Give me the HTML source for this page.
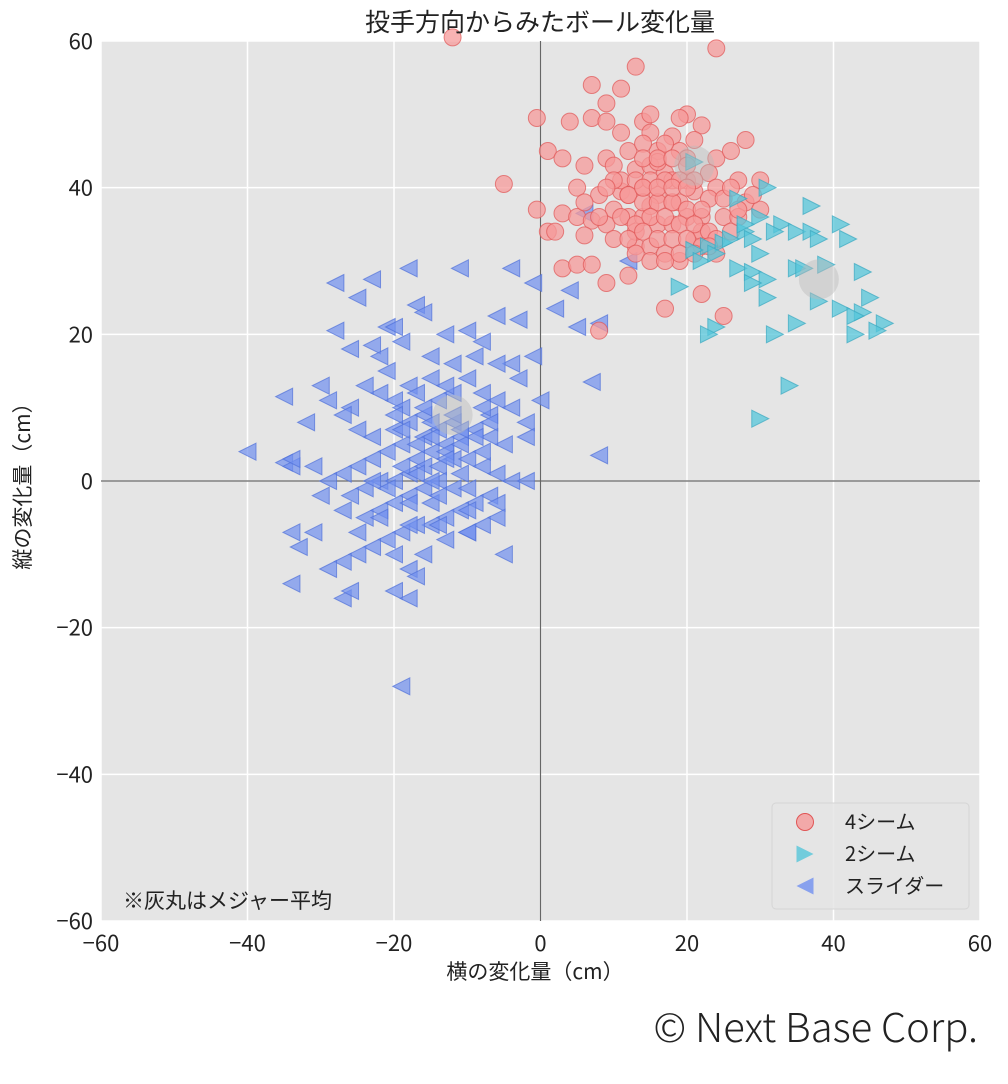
<!DOCTYPE html>
<html><head><meta charset="utf-8"><style>
body{margin:0;background:#fff;width:1008px;height:1079px;overflow:hidden}
svg text{font-family:"Noto Sans CJK JP","Liberation Sans",sans-serif}
</style></head><body>
<svg id="chart" width="1008" height="1079" xmlns="http://www.w3.org/2000/svg"></svg>
<script>
const xTicks=[-60,-40,-20,0,20,40,60];
const yTicks=[-60,-40,-20,0,20,40,60];
const fourSeamX=[-12,24,13,7,11,9,7,4,9,14,15,20,19,-0.5,22,11,15,18,28,21,1,9,12,16,19,24,26,3,6,10,13,15,17,20,23,27,30,-5,5,8,11,14,16,18,21,24,28,-0.5,3,5,7,9,12,14,16,18,20,22,25,30,1,2,6,10,13,15,17,19,24,3,5,7,12,17,22,25,9,8,26,23,12,19,25,16,14,11,13,21,27,20,22,18,10,6,15,17,
14,16,18,20,13,15,17,19,21,12,14,16,18,20,22,11,13,15,17,19,21,23,12,14,16,18,20,22,24,13,15,17,19,21,23,14,16,18,20,10,9,8,26,27,29];
const fourSeamY=[60.5,59,56.5,54,53.5,51.5,49.5,49,49,49,50,50,49.5,49.5,48.5,47.5,47.5,47,46.5,46.5,45,44,45,45,45,44,45,44,43,43,42.5,43,42,41,42,41,41,40.5,40,39,39.5,40,39,38,39.5,40,38,37,36.5,36,35.5,35,36,36,35,35,36,36,36,37,34,34,33.5,33,32,32,31,30,31,29,29.5,29.5,28,23.5,25.5,22.5,27,20.5,34,38.5,39,38,38.5,43.5,46,41,34,33,36,44,34,41,37,38,37.5,46,
44,44,44,43,41,41,41,41,41,39,38,38,38,37,37,36,35,36,36,35,35,34,33,34,33,33,33,32,33,31,30,30,31,31,32,40,40,40,40,41,40,36,40,37,39];
const twoSeamX=[21,31,27,37,30,33,41,28,35,37,29,38,42,23,25,21,30,22,39,27,29,35,36,44,31,29,19,31,38,45,41,44,43,24,35,47,23,32,43,46,34,30,26,28,32,24];
const twoSeamY=[43.5,40,38.5,37.5,36,35,35,34,34,34,33,33,33,32,32.5,31.5,31,30,29.5,29,28.5,29,29,28.5,27.5,27,26.5,25,24.5,25,23.5,23,22.5,21,21.5,21.5,20,20,20,20.5,13,8.5,33,35,34,31];
const sliderX=[-40,-35,-34,-34,-31,-35,-32,-30,-29,-28,-25,-23,-28,-26,-23,-22,-21,-20,-18,-11,-4,-1,2,4,5,8,7,12,6,-17,-16,-13,-10,-8,-6,-3,-4,-1,-9,-12,-15,-18,-20,-22,-24,-26,-27,-25,-23,-20,-18,-16,-14,-12,-10,-8,-6,-4,-2,-2,-5,-7,-9,-11,-13,-15,-17,-19,-21,-23,-25,-27,-29,-26,-24,-22,-20,-18,-16,-14,-12,-10,-8,-6,-4,-2,-7,-9,-11,-13,-15,-17,-19,-21,-23,-25,-27,-29,-31,-34,-33,-24,-22,-20,-18,-16,-14,-12,-10,-8,-5,-10,-13,-16,-18,-17,-20,-18,-27,-26,-34,-19,8,-15,-19,-21,-27,-30,-6,-7,-3,0,-25,-14,-12,-19,-8,-16,-23,-20,-15,
-17,-15,-13,-11,-9,-19,-17,-15,-13,-11,-21,-18,-14,-10,-6,-20,-16,-12,-8,-22,-18,-14,-10,-6,-19,-15,-11,-7,-17,-13];
const sliderY=[4,2.5,2,3,2,11.5,8,13,11,27,25,27.5,20.5,18,18.5,17,21,21,29,29,29,27,23.5,26,21,21.5,13.5,30,36.5,24,23,20,20.5,19,22.5,22,16,17,17,16,14,13,11,12,13,10,9,7,6,7,8,9,11,12,14,12,11,10,8,6,5,6,7,6,5,4,3,5,4,3,2,1,0,-2,-1,0,0,1,2,2,3,3,2,1,0,0,-2,-3,-4,-5,-6,-6,-7,-8,-9,-10,-11,-12,-7,-7,-9,-5,-4,-3,-2,-1,0,-1,-1,-6,-10,-7,-8,-10,-12,-13,-15,-16,-16,-15,-14,-28,3.5,17,19,15,-4,-2,16,9,14,11,-7,7,8,10,4,6,0,-10,-3,
5,6,4,5,6,2,1,0,3,1,-1,-3,-2,-4,-3,9,10,9,10,-5,-6,-6,-7,-5,7,8,7,8,12,13];
const meanX=[21,38,-12];
const meanY=[43,27.5,9];

const L=101,R=980,T=41,B=921;
const sx=v=>L+(v+60)/120*(R-L);
const sy=v=>B-(v+60)/120*(B-T);
const svg=document.getElementById('chart');
const NS='http://www.w3.org/2000/svg';
function mk(tag,attrs,parent){const e=document.createElementNS(NS,tag);for(const k in attrs)e.setAttribute(k,attrs[k]);(parent||svg).appendChild(e);return e;}
const fmt=v=>v<0?'\u2212'+(-v):String(v);

const bg=mk('rect',{x:L,y:T,width:R-L,height:B-T,fill:'#e5e5e5'});



xTicks.forEach(v=>{
  const g=mk('line',{x1:sx(v),x2:sx(v),y1:T,y2:B,stroke:'#fff','stroke-width':1.5});
  
  
  const t=mk('text',{x:sx(v),y:B+30,'text-anchor':'middle','font-size':22,fill:'#222'});t.textContent=fmt(v);
  
  
});
yTicks.forEach(v=>{
  const g=mk('line',{x1:L,x2:R,y1:sy(v),y2:sy(v),stroke:'#fff','stroke-width':1.5});
  
  
  const t=mk('text',{x:L-8,y:sy(v)+8,'text-anchor':'end','font-size':22,fill:'#222'});t.textContent=fmt(v);
  
  
});
const ax=mk('line',{x1:sx(0),x2:sx(0),y1:T,y2:B,stroke:'#666','stroke-width':1.2});


const ay=mk('line',{x1:L,x2:R,y1:sy(0),y2:sy(0),stroke:'#666','stroke-width':1.2});



function tri(cx,cy,dir,s){const h=s;return dir>0?`${cx-h/2},${cy-h/2} ${cx+h/2},${cy} ${cx-h/2},${cy+h/2}`:`${cx+h/2},${cy-h/2} ${cx-h/2},${cy} ${cx+h/2},${cy+h/2}`;}

sliderX.forEach((v,i)=>{
  const p=mk('polygon',{points:tri(sx(v),sy(sliderY[i]),-1,17),fill:'#7090f0','fill-opacity':0.7,stroke:'#5070d8','stroke-opacity':0.7});
  
  
});
fourSeamX.forEach((v,i)=>{
  const c=mk('circle',{cx:sx(v),cy:sy(fourSeamY[i]),r:8.5,fill:'#f59a9a','fill-opacity':0.75,stroke:'#e05555','stroke-opacity':0.7});
  
  
});
twoSeamX.forEach((v,i)=>{
  const p=mk('polygon',{points:tri(sx(v),sy(twoSeamY[i]),1,17),fill:'#55c6da','fill-opacity':0.75,stroke:'#3aa8c0','stroke-opacity':0.7});
  
  
});
meanX.forEach((v,i)=>{
  const c=mk('circle',{cx:sx(v),cy:sy(meanY[i]),r:20,fill:'#bbbbbb','fill-opacity':0.45});
  
  
});

const lg=mk('g',{});


mk('rect',{x:772,y:803,width:197,height:106,rx:4,fill:'#e5e5e5','fill-opacity':0.85,stroke:'#d5d5d5'},lg);
const items=[['4シーム','c'],['2シーム','r'],['スライダー','l']];
items.forEach((it,i)=>{
  const y=822+i*32;
  let m;
  if(it[1]==='c')m=mk('circle',{cx:805,cy:y,r:8.5,fill:'#f59a9a','fill-opacity':0.8,stroke:'#e05555'},lg);
  else m=mk('polygon',{points:tri(805,y,it[1]==='r'?1:-1,17),fill:it[1]==='r'?'#55c6da':'#7090f0','fill-opacity':0.8},lg);
  
  
  const t=mk('text',{x:845,y:y+7,'font-size':20,fill:'#222'},lg);t.textContent=it[0];
  
  
});

const note=mk('text',{x:123,y:908,'font-size':21,fill:'#222'});note.textContent='※灰丸はメジャー平均';


const title=mk('text',{x:540,y:31,'text-anchor':'middle','font-size':25,fill:'#222'});title.textContent='投手方向からみたボール変化量';


const xt=mk('text',{x:535,y:979,'text-anchor':'middle','font-size':21,fill:'#222'});xt.textContent='横の変化量（cm）';


const yt=mk('text',{x:30,y:481,'text-anchor':'middle','font-size':21,fill:'#222',transform:'rotate(-90 30 481)'});yt.textContent='縦の変化量（cm）';


const cp=mk('text',{x:978,y:1042,'text-anchor':'end','font-size':40,fill:'#222','font-weight':300});cp.textContent='© Next Base Corp.';


</script>
</body></html>
